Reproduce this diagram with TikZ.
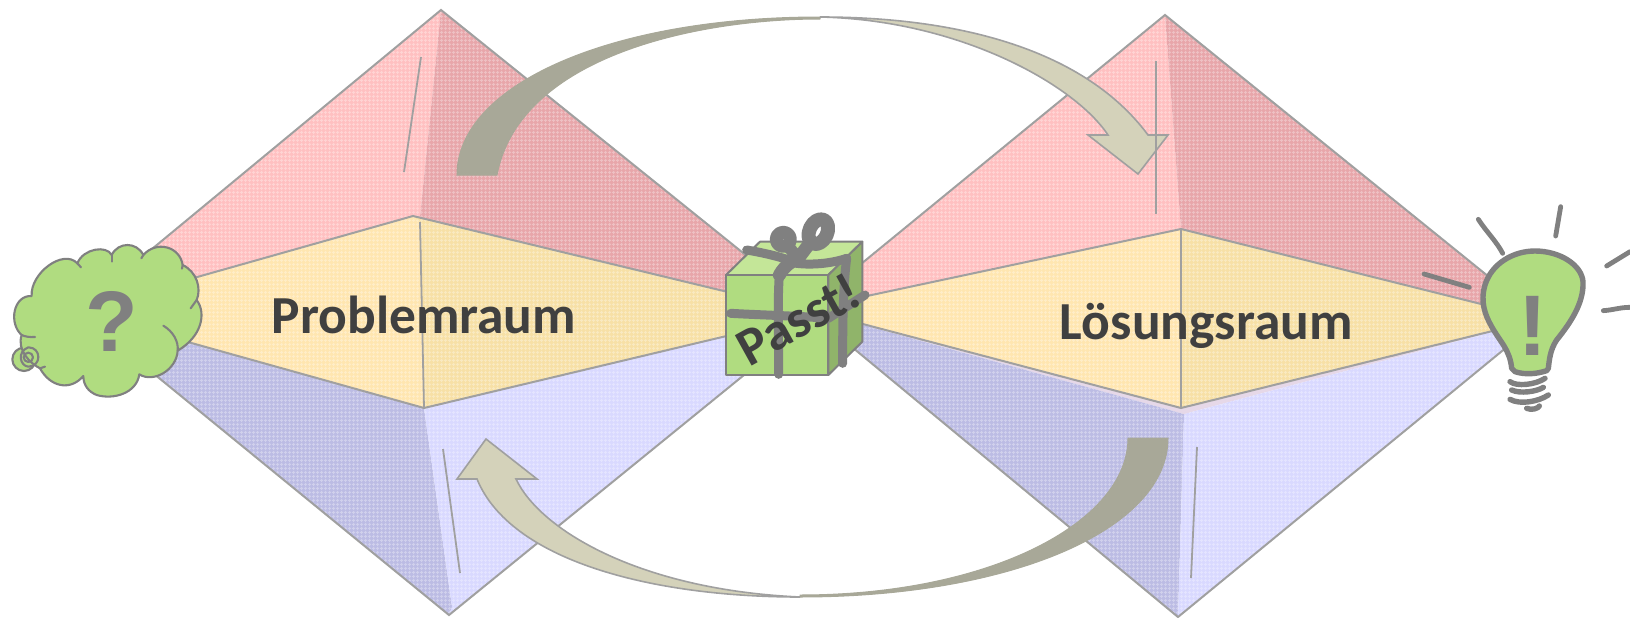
\documentclass[tikz,border=0pt]{standalone}
\usepackage{fontspec}
\setmainfont{Carlito}
\newfontfamily\arialbold{Liberation Sans}
\usetikzlibrary{patterns}
\pgfdeclarepatternformonly{fgrid}{\pgfqpoint{0pt}{0pt}}{\pgfqpoint{4pt}{4pt}}{\pgfqpoint{4pt}{4pt}}{%
  \pgfsetlinewidth{1pt}%
  \pgfpathmoveto{\pgfqpoint{0pt}{2pt}}\pgfpathlineto{\pgfqpoint{4pt}{2pt}}%
  \pgfpathmoveto{\pgfqpoint{2pt}{0pt}}\pgfpathlineto{\pgfqpoint{2pt}{4pt}}%
  \pgfusepath{stroke}}
\definecolor{redL}{HTML}{FFC0C1}
\definecolor{redD}{HTML}{E8A6AA}
\definecolor{yelL}{HTML}{FFE6B0}
\definecolor{yelD}{HTML}{F7E0A6}
\definecolor{bluL}{HTML}{D9D9FF}
\definecolor{bluD}{HTML}{BCBCE4}
\definecolor{bandC}{HTML}{E6D8E8}
\definecolor{edgeC}{HTML}{A0A0A0}
\definecolor{inkG}{HTML}{808080}
\definecolor{leaf}{HTML}{B0DC80}
\definecolor{leafT}{HTML}{C4E698}
\definecolor{leafS}{HTML}{90B46A}
\definecolor{arrD}{HTML}{A8A898}
\definecolor{arrL}{HTML}{D4D2BA}
\definecolor{txtD}{HTML}{404040}
\tikzset{
  facet/.style={fill=#1,draw=none},
  tex/.style={pattern=fgrid,pattern color=white,opacity=.3,draw=none},
  outline/.style={draw=edgeC,line width=2pt,line join=miter},
  thinline/.style={draw=edgeC,line width=1.8pt},
  inkline/.style={draw=inkG,line width=2.1pt,line cap=round,line join=round},
  ribbon/.style={draw=inkG,line width=9pt,line cap=round,line join=round},
  ray/.style={draw=inkG,line width=4.8pt,line cap=round,line join=round},
  bigtext/.style={font=\fontsize{53.5}{58}\selectfont\bfseries,text=txtD,anchor=base,inner sep=0pt},
  marktext/.style={font=\arialbold\fontsize{86}{90}\selectfont\bfseries,text=inkG,anchor=base,inner sep=0pt},
}
\newcommand{\gemfacet}[2]{\path[facet=#1] #2; \path[tex] #2;}
\begin{document}
\begin{tikzpicture}[x=1pt,y=-1pt]
\useasboundingbox (0,0) rectangle (1630,618);
% left diamond
\coordinate (aT) at (441,10); \coordinate (aB) at (449,615);
\coordinate (aL) at (77,311); \coordinate (aR) at (819,314);
\coordinate (aU) at (413,216); \coordinate (aD) at (424,408);
\gemfacet{redL}{(aT)--(aL)--(aU)--(420,217)--cycle}
\gemfacet{redD}{(aT)--(420,217)--(aU)--(aR)--cycle}
\gemfacet{bluD}{(aD)--(aL)--(aB)--(452,607)--cycle}
\gemfacet{bluL}{(aD)--(452,607)--(aB)--(aR)--cycle}
\gemfacet{yelL}{(aU)--(aL)--(aD)--(420,222)--cycle}
\gemfacet{yelD}{(aU)--(420,222)--(aD)--(aR)--cycle}
\draw[outline] (aL)--(aT)--(aR)--(aB)--cycle;
\draw[outline] (aL)--(aU)--(aR)--(aD)--cycle;
\draw[thinline] (420,222)--(424,408);
% right diamond
\coordinate (bT) at (1165,15); \coordinate (bB) at (1178,617);
\coordinate (bL) at (806,309); \coordinate (bR) at (1541,319);
\coordinate (bU) at (1181,229); \coordinate (bD) at (1181,408);
\gemfacet{redL}{(bT)--(bL)--(bU)--cycle}
\gemfacet{redD}{(bT)--(bU)--(bR)--cycle}
\path[fill=bandC] (bL)--(bD)--(bR)--(1184,414)--cycle;
\gemfacet{bluD}{(1184,414)--(bL)--(bB)--cycle}
\gemfacet{bluL}{(1184,414)--(bB)--(bR)--cycle}
\path[fill=bandC] (bD)--(1184,414)--(1240,396)--cycle;
\path[fill=bandC] (bD)--(1184,414)--(1130,396)--cycle;
\gemfacet{yelL}{(bU)--(bL)--(bD)--cycle}
\gemfacet{yelD}{(bU)--(bD)--(bR)--cycle}
\draw[outline] (bL)--(bT)--(bR)--(bB)--cycle;
\draw[outline] (bL)--(bU)--(bR)--(bD)--cycle;
\draw[thinline] (bU)--(bD);
% curved arrows
\draw[fill=arrD,draw=arrD,line width=1pt] (457,175) .. controls (457,85) and (610,17) .. (820,17)
  -- (820,19) .. controls (700,19) and (520,55) .. (497,175) -- cycle;
\draw[fill=arrL,draw=edgeC,line width=1.6pt,line join=miter] (820,17) .. controls (960,17) and (1085,50) .. (1148,135)
  -- (1168,135) -- (1138,174) -- (1088,135) -- (1108,135)
  .. controls (1075,85) and (960,20) .. (820,17) -- cycle;
\draw[fill=arrD,draw=arrD,line width=1pt] (1168,438) .. controls (1168,530) and (1010,597) .. (800,597)
  -- (800,595) .. controls (990,595) and (1128,522) .. (1128,438) -- cycle;
\draw[fill=arrL,draw=edgeC,line width=1.6pt,line join=miter] (800,597) .. controls (650,597) and (510,560) .. (477,479)
  -- (457,479) -- (486,439) -- (537,479) -- (516,479)
  .. controls (540,530) and (640,590) .. (800,597) -- cycle;
% thin lines inside the facets
\draw[thinline] (421,57)--(404,172);
\draw[thinline] (1156,61)--(1156,214);
\draw[thinline] (443,449)--(460,573);
\draw[thinline] (1197,447)--(1191,578);
% labels
\node[bigtext] (prob) at (424,333) {Problemraum};
\node[bigtext] (loes) at (1206,339) {Lösungsraum};
% cloud
\begin{scope}[shift={(0,220)},x=.33333pt,y=-.33333pt]
\draw[inkline,fill=leaf] (72,418) circle[radius=35];
\draw[inkline,fill=leaf] (95,228) .. controls (90,160) and (190,85) .. (232,130)
  .. controls (250,85) and (320,75) .. (335,105)
  .. controls (355,65) and (410,65) .. (430,105)
  .. controls (470,60) and (540,80) .. (548,135)
  .. controls (590,155) and (605,205) .. (590,240)
  .. controls (620,280) and (605,350) .. (533,392)
  .. controls (530,450) and (460,490) .. (418,463)
  .. controls (410,520) and (340,540) .. (290,525)
  .. controls (265,515) and (250,495) .. (250,468)
  .. controls (210,515) and (150,500) .. (120,445)
  .. controls (90,430) and (50,390) .. (65,345)
  .. controls (25,310) and (40,225) .. (95,228) -- cycle;
\draw[inkline] (232,130)--(243,142);
\draw[inkline] (335,105)--(335,125);
\draw[inkline] (430,105)--(424,115);
\draw[inkline] (548,135)--(546,146);
\draw[inkline] (590,240)--(572,265);
\draw[inkline] (533,392) .. controls (536,365) and (520,335) .. (490,317);
\draw[inkline] (65,345) .. controls (75,350) and (90,352) .. (105,351);
\draw[inkline] (120,445)--(135,440);
\draw[inkline] (85,412) circle[radius=14];
\draw[inkline] (85,382) .. controls (125,382) and (125,440) .. (85,440) .. controls (60,438) and (50,395) .. (85,382);
\node[marktext] (qm) at (335,395) {?};
\end{scope}
% gift
\begin{scope}[shift={(700,190)},x=.33333pt,y=-.33333pt]
\draw[fill=leafT,draw=inkG,line width=2pt,line join=round] (78,255)--(180,155)--(487,155)--(385,255)--cycle;
\draw[fill=leafS,draw=inkG,line width=2pt,line join=round] (385,255)--(487,155)--(487,455)--(385,555)--cycle;
\draw[fill=leaf,draw=inkG,line width=2pt,line join=round] (78,255) rectangle (385,555);
\draw[ribbon] (92,370) .. controls (180,375) and (300,378) .. (385,385) -- (495,315);
\draw[ribbon] (236,553) .. controls (236,450) and (232,340) .. (238,255);
\draw[ribbon] (428,520) .. controls (428,420) and (428,300) .. (440,205);
\draw[ribbon] (140,180) .. controls (200,190) and (260,205) .. (290,220) .. controls (330,225) and (390,222) .. (440,205);
\draw[ribbon,line width=13pt] (238,255) .. controls (255,225) and (275,215) .. (295,205);
\draw[ribbon,line width=13pt] (250,148) circle[radius=21];
\draw[ribbon,line width=12pt] (265,170) -- (295,205);
\draw[ribbon,line width=14pt] (355,125) ellipse[x radius=27,y radius=39,rotate=-25];
\draw[ribbon,line width=13pt] (325,165) -- (295,205);
\node[bigtext,rotate=29,anchor=center] (passt) at (296,388) {Passt!};
\end{scope}
% bulb
\begin{scope}[shift={(1410,190)},x=.33333pt,y=-.33333pt]
\draw[ray,line width=5.4pt,fill=leaf] (305,535) .. controls (300,480) and (270,455) .. (245,410)
  .. controls (225,375) and (210,335) .. (225,285)
  .. controls (245,220) and (310,183) .. (375,183)
  .. controls (450,183) and (515,225) .. (519,275)
  .. controls (522,340) and (480,400) .. (440,450)
  .. controls (420,480) and (418,510) .. (415,535)
  -- (410,542) .. controls (380,552) and (345,555) .. (315,545) -- cycle;
\draw[ray,line width=5.4pt] (300,575) .. controls (320,590) and (375,585) .. (405,565);
\draw[ray,line width=5.4pt] (305,600) .. controls (330,612) and (380,605) .. (400,592);
\draw[ray,line width=5.4pt] (300,628) .. controls (330,645) and (385,635) .. (415,615);
\draw[ray,line width=5.4pt] (350,655) .. controls (365,662) and (385,655) .. (388,648);
\draw[ray] (205,88) .. controls (225,120) and (260,155) .. (278,190);
\draw[ray] (452,50)--(437,138);
\draw[ray] (590,228)--(660,185);
\draw[ray] (580,362) .. controls (610,360) and (630,352) .. (660,352);
\draw[ray] (42,252)--(178,292);
\node[marktext] (em) at (367,497) {!};
\end{scope}
\end{tikzpicture}
\end{document}
